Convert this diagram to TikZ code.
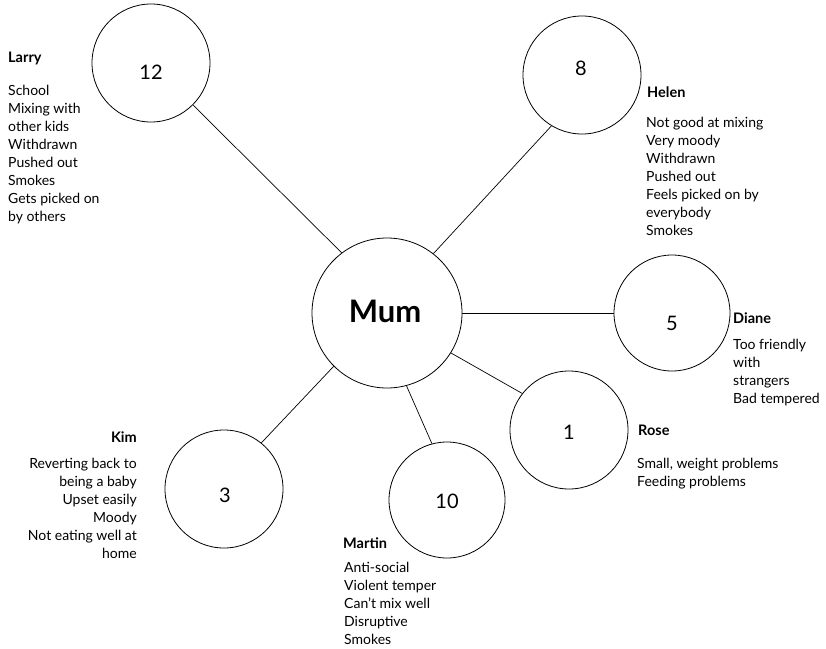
\documentclass[tikz,border=0pt]{standalone}
\usepackage{fontspec}
\setmainfont{Lato}
\begin{document}
\begin{tikzpicture}[x=1pt,y=-1pt,
  ring/.style={draw, circle, inner sep=0pt, line width=0.8pt},
  num/.style={inner sep=0pt, font=\fontsize{20}{24}\selectfont},
  who/.style={inner sep=0pt, font=\fontsize{14.5}{18}\selectfont\bfseries},
  notes/.style={inner sep=0pt, align=left, font=\fontsize{14}{18}\selectfont},
  notesr/.style={inner sep=0pt, align=right, font=\fontsize{14}{18}\selectfont},
  link/.style={line width=0.7pt}]
\useasboundingbox (0,0) rectangle (826,648);

% circles
\node[ring, minimum size=150pt] (cmum) at (387,313) {};
\node[ring, minimum size=118pt] (c12) at (151,63) {};
\node[ring, minimum size=118pt] (c8) at (582,75) {};
\node[ring, minimum size=116pt] (c5) at (672,313) {};
\node[ring, minimum size=118pt] (c1) at (569,430) {};
\node[ring, minimum size=118pt] (c3) at (224,489) {};
\node[ring, minimum size=116pt] (c10) at (447,500) {};

% labels inside the circles
\node[inner sep=0pt, font=\fontsize{31}{36}\selectfont\bfseries] (tmum) at (385,311) {Mum};
\node[num] (t12) at (151,72) {12};
\node[num] (t8) at (581,68) {8};
\node[num] (t5) at (672,323) {5};
\node[num] (t1) at (569,432) {1};
\node[num] (t3) at (225,495) {3};
\node[num] (t10) at (447,501) {10};

% spokes
\draw[link] (cmum.127) -- (c12.-45);
\draw[link] (cmum.52) -- (c8.-121);
\draw[link] (cmum.0) -- (c5.180);
\draw[link] (cmum.-32) -- (c1.142);
\draw[link] (cmum.-135) -- (c3.51);
\draw[link] (cmum.-75) -- (c10.105);

% names and notes (notes are placed by the baseline of their last line)
\node[who, anchor=base west] (larry) at (8,62) {Larry};
\node[notes, anchor=base west] (larrynotes) at (8,221) {School\\Mixing with\\other kids\\Withdrawn\\Pushed out\\Smokes\\Gets picked on\\by others};

\node[who, anchor=base west] (helen) at (647,97) {Helen};
\node[notes, anchor=base west] (helennotes) at (646,235) {Not good at mixing\\Very moody\\Withdrawn\\Pushed out\\Feels picked on by\\everybody\\Smokes};

\node[who, anchor=base west] (diane) at (733,323) {Diane};
\node[notes, anchor=base west] (dianenotes) at (733,403) {Too friendly\\with\\strangers\\Bad tempered};

\node[who, anchor=base west] (rose) at (638,435) {Rose};
\node[notes, anchor=base west] (rosenotes) at (637,486) {Small, weight problems\\Feeding problems};

\node[who, anchor=base east] (kim) at (137,442) {Kim};
\node[notesr, anchor=base east] (kimnotes) at (137,558) {Reverting back to\\being a baby\\Upset easily\\Moody\\Not eating well at\\home};

\node[who, anchor=base west] (martin) at (343,548) {Martin};
\node[notes, anchor=base west] (martinnotes) at (344,644) {Anti-social\\Violent temper\\Can’t mix well\\Disruptive\\Smokes};
\end{tikzpicture}
\end{document}
